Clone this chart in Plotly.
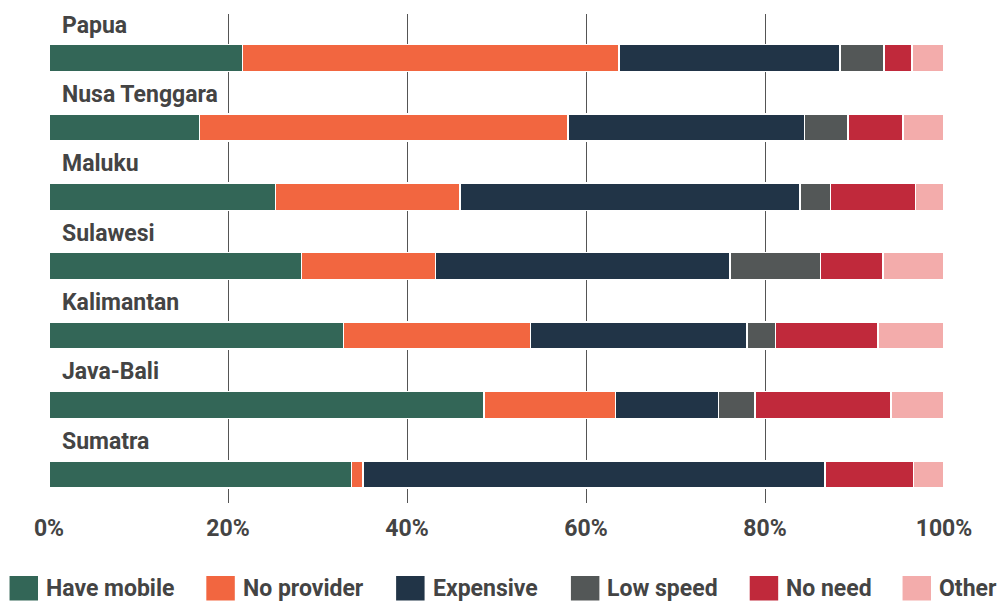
import plotly.graph_objects as go

regions = ["Sumatra", "Java-Bali", "Kalimantan", "Sulawesi", "Maluku", "Nusa Tenggara", "Papua"]
series = ["Have mobile", "No provider", "Expensive", "Low speed", "No need", "Other"]
have_mobile = [33.8, 48.6, 32.9, 28.2, 25.3, 16.8, 21.6]
no_provider = [1.3, 14.7, 20.9, 15.0, 20.6, 41.2, 42.1]
expensive = [51.6, 11.5, 24.2, 32.9, 38.0, 26.4, 24.7]
low_speed = [0.0, 4.1, 3.2, 10.1, 3.4, 4.9, 4.9]
no_need = [9.9, 15.2, 11.4, 7.0, 9.5, 6.1, 3.1]
other = [3.4, 5.9, 7.4, 6.8, 3.2, 4.6, 3.6]
tick_vals = [0, 20, 40, 60, 80, 100]
tick_text = ["0%", "20%", "40%", "60%", "80%", "100%"]

values = [have_mobile, no_provider, expensive, low_speed, no_need, other]
colors = ["#336657", "#F26640", "#213447", "#535757", "#C0293B", "#F3ACAB"]
text_color = "#444444"
font_family = "Roboto"

W, H = 999, 601
ml, mr, mt, mb = 48.5, 54.5, 14, 98
pw, ph = W - ml - mr, H - mt - mb

fig = go.Figure()
ypos = list(range(len(regions)))
for name, vals, col in zip(series, values, colors):
    fig.add_trace(go.Bar(
        y=ypos, x=vals, name=name, orientation="h",
        marker=dict(color=col, line=dict(color="white", width=1.5)),
        width=0.39, showlegend=False,
        hovertemplate="%{x}%<extra>" + name + "</extra>",
    ))

# region labels above each bar
for i, r in enumerate(regions):
    fig.add_annotation(
        x=1.25, y=i + 0.475, xref="x", yref="y", text="<b>" + r + "</b>",
        showarrow=False, xanchor="left", yanchor="middle",
        font=dict(family=font_family, size=23, color=text_color),
    )

# custom legend with large squares (positions in page pixels)
legend_sq_px = [9, 206, 396, 571, 750, 903]
sq_w, sq_top, sq_bot = 28.5, 576, 600.5


def px_to_paper_x(px):
    return (px - ml) / pw


def px_to_paper_y(py):
    return (H - mb - py) / ph


for name, col, px in zip(series, colors, legend_sq_px):
    fig.add_shape(type="rect", xref="paper", yref="paper",
                  x0=px_to_paper_x(px), x1=px_to_paper_x(px + sq_w),
                  y0=px_to_paper_y(sq_bot), y1=px_to_paper_y(sq_top),
                  fillcolor=col, line=dict(width=0))
    fig.add_annotation(
        x=px_to_paper_x(px + sq_w + 6), y=px_to_paper_y(588.5), xref="paper", yref="paper",
        text="<b>" + name + "</b>", showarrow=False, xanchor="left", yanchor="middle",
        font=dict(family=font_family, size=23, color=text_color),
    )

fig.update_layout(
    width=W, height=H, barmode="stack",
    margin=dict(l=ml, r=mr, t=mt, b=mb, pad=0),
    plot_bgcolor="white", paper_bgcolor="white",
    font=dict(family=font_family, color=text_color),
    xaxis=dict(
        range=[0, 100], tickvals=tick_vals, ticktext=["<b>" + t + "</b>" for t in tick_text],
        showgrid=True, gridcolor="#555555", gridwidth=1.3, zeroline=False,
        showline=False, ticks="", tickfont=dict(family=font_family, size=23, color=text_color),
        ticklabelstandoff=9,
    ),
    yaxis=dict(
        range=[-0.414, 6.634], showticklabels=False, showgrid=False, zeroline=False,
        showline=False, ticks="",
    ),
)

fig.write_html(
    "out.html",
    config={"displayModeBar": False},
    post_script="document.body.style.margin='0px';document.body.style.overflow='hidden';",
)
